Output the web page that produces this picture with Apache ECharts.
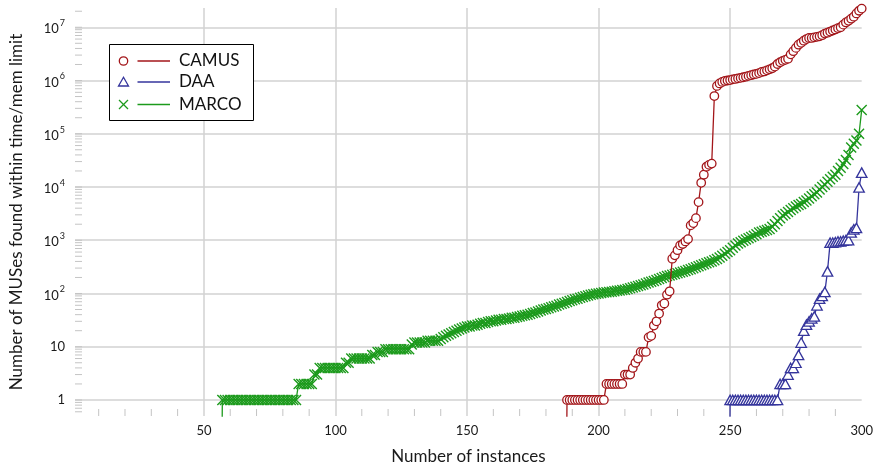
<!DOCTYPE html>
<html>
<head>
<meta charset="utf-8">
<script src="https://cdn.jsdelivr.net/npm/echarts@6/dist/echarts.min.js"></script>
<style>
  html, body { margin: 0; padding: 0; background: #fff; }
  #chart { width: 876px; height: 470px; }
</style>
</head>
<body>
<div id="chart"></div>
<script>
// cactus plot: instance rank on x, MUSes found on y (log)
const seriesNames = ['CAMUS', 'DAA', 'MARCO']

const camusStart = 188
const camusValues = [
  1, 1, 1, 1, 1, 1, 1, 1, 1, 1, 1, 1, 1, 1, 1,
  2, 2, 2, 2, 2, 2, 2,
  3, 3, 3,
  4, 5, 6,
  8, 8, 8,
  15, 16,
  25, 30,
  42, 60, 65,
  95, 110,
  450, 520, 650, 800, 850, 950, 1050,
  1900, 2100, 2600,
  5200, 12000, 17000, 24000, 26000, 27500,
  510000, 790000, 880000, 940000, 980000, 1000000, 1020000, 1050000, 1070000, 1100000,
  1120000, 1150000, 1180000, 1220000, 1260000, 1300000, 1330000, 1380000, 1450000, 1480000,
  1550000, 1620000, 1700000, 1820000, 2040000, 2200000, 2340000, 2450000, 2570000, 3100000,
  3550000, 4100000, 4700000, 5100000, 5600000, 6000000, 6300000, 6300000, 6450000, 6600000,
  6750000, 7100000, 7600000, 7900000, 8300000, 8700000, 9100000, 9600000, 10000000, 11200000,
  12300000, 13200000, 14500000, 15800000, 18200000, 20400000, 22400000
]

const daaStart = 250
const daaValues = [
  1, 1, 1, 1, 1, 1, 1, 1, 1, 1, 1, 1, 1, 1, 1, 1, 1, 1, 1,
  2, 2, 2, 3, 4, 4, 5, 7, 12, 20,
  26, 30, 34, 37, 60, 80, 90, 107, 260, 900,
  900, 920, 950, 950, 980, 1000, 1000, 1400, 1600, 1700,
  9800, 18600
]

const marcoStart = 57
const marcoValues = [
  1, 1, 1, 1, 1, 1, 1, 1, 1, 1, 1, 1, 1, 1, 1, 1, 1, 1, 1, 1, 1, 1, 1, 1, 1, 1, 1, 1, 1,
  2, 2, 2, 2, 2, 2,
  3, 3,
  4, 4, 4, 4, 4, 4, 4, 4, 4, 4,
  5, 5,
  6, 6, 6, 6, 6, 6, 6, 6,
  7, 7, 8, 8, 8,
  9, 9, 9, 9, 9, 9, 9, 9, 9, 9,
  11,
  12, 12, 12, 12, 12, 13, 13, 13, 13, 13,
  14, 15, 16, 17, 18, 19, 20, 21, 22, 23, 24,
  24, 25, 25, 26, 27,
  28, 28, 29, 30, 30, 31, 32,
  32, 33, 33, 34, 35, 35, 36, 37,
  38, 39, 40, 41, 43, 44, 46,
  48, 50, 51, 53, 55, 57, 59, 62,
  64, 66, 69, 72, 75,
  78, 80, 83, 86, 89, 92, 95,
  97, 99, 100, 102, 104, 105,
  107, 108, 110, 112, 114, 116, 118,
  122, 126, 130, 134, 138, 143, 148, 154,
  160, 166, 172, 180, 188, 196, 205,
  212, 218, 225, 232, 240, 248, 256, 265,
  275, 285, 298, 312,
  325, 340, 355, 370, 385, 400, 420, 445,
  475, 510, 555, 600, 650, 720, 800,
  870, 920, 980, 1030, 1090, 1150,
  1220, 1300, 1400, 1450, 1500, 1560, 1620,
  1800, 2000, 2300, 2600, 2900, 3100, 3400, 3700,
  4000, 4300, 4600, 4800,
  5200, 5600, 6100, 6700, 7300, 7900,
  9000, 10000, 11000, 12500, 14000, 15500, 17000,
  20000, 23000, 27000,
  32000, 40000, 55000, 65000, 75000, 100000, 280000
]

// small tick marks (pgfplots style)
const xMinorTicks = [10, 20, 30, 40, 60, 70, 80, 90, 110, 120, 130, 140, 160, 170, 180, 190,
  210, 220, 230, 240, 260, 270, 280, 290]
const yMantissas = [1, 2, 3, 4, 5, 6, 7, 8, 9]
const yDecades = [0.1, 1, 10, 100, 1e3, 1e4, 1e5, 1e6, 1e7]

const X_MIN = 1, X_MAX = 300
const Y_MIN = 0.5, Y_MAX = 2.3e7
const ZERO_FLOOR = 1e-6 // 0 MUSes -> far below the log axis, gives the drop line

const RED = '#a3161a'
const BLUE = '#35359c'
const GREEN = '#1c9a1c'
const GRID = '#d2d2d2'
const TICK = '#c4c4c4'
const FONT = 'Lato'

function cactus(start, values) {
  let pts = [{value: [start - 1, ZERO_FLOOR], symbol: 'none'}]
  values.forEach((v, i) => pts.push([start + i, v]))
  return pts
}

let yMinorTicks = []
yDecades.forEach(d => {
  yMantissas.forEach(m => {
    let v = +(d * m).toPrecision(3)
    if (v > Y_MIN && v < Y_MAX) yMinorTicks.push(v)
  })
})

const chart = echarts.init(document.getElementById('chart'))

let option = {
  animation: false,
  backgroundColor: '#fff',
  textStyle: {fontFamily: FONT},
  grid: {left: 73, right: 12, top: 8, bottom: 52},
  xAxis: {
    type: 'value',
    min: X_MIN,
    max: X_MAX,
    splitNumber: 6,
    name: 'Number of instances',
    nameLocation: 'middle',
    nameGap: 32,
    nameTextStyle: {fontSize: 17, color: '#1a1a1a', fontFamily: FONT},
    axisLine: {show: false},
    axisTick: {show: false},
    axisLabel: {fontSize: 13, color: '#1a1a1a', margin: 8, showMinLabel: false, fontFamily: FONT},
    splitLine: {show: true, showMinLine: false, showMaxLine: false, lineStyle: {color: GRID, width: 1.5}}
  },
  yAxis: {
    type: 'log',
    logBase: 10,
    min: Y_MIN,
    max: Y_MAX,
    name: 'Number of MUSes found within time/mem limit',
    nameLocation: 'middle',
    nameGap: 50,
    nameTextStyle: {fontSize: 17, color: '#1a1a1a', fontFamily: FONT},
    axisLine: {show: false},
    axisTick: {show: false},
    axisLabel: {
      fontSize: 13,
      color: '#1a1a1a',
      margin: 10,
      fontFamily: FONT,
      showMinLabel: false,
      showMaxLabel: false,
      formatter: v => {
        let e = Math.round(Math.log10(v))
        if (e === 0) return '1'
        if (e === 1) return '10'
        return '{b|10}{sup|' + e + '}'
      },
      rich: {
        b: {fontSize: 13, lineHeight: 17, verticalAlign: 'bottom', color: '#1a1a1a', fontFamily: FONT},
        sup: {fontSize: 9, lineHeight: 9, verticalAlign: 'top', color: '#1a1a1a', fontFamily: FONT, padding: [0, 0, 0, 1]}
      }
    },
    splitLine: {show: true, showMinLine: false, showMaxLine: false, lineStyle: {color: GRID, width: 1.5}}
  },
  series: [
    {
      type: 'custom',
      silent: true,
      data: xMinorTicks.map(t => [t, Y_MIN]),
      renderItem: (params, api) => {
        let p = api.coord([api.value(0), api.value(1)])
        return {type: 'line', shape: {x1: p[0], y1: p[1], x2: p[0], y2: p[1] - 7}, style: {stroke: TICK, lineWidth: 1}}
      },
      z: 1
    },
    {
      type: 'custom',
      silent: true,
      data: yMinorTicks.map(t => [X_MIN, t]),
      renderItem: (params, api) => {
        let p = api.coord([api.value(0), api.value(1)])
        return {type: 'line', shape: {x1: p[0], y1: p[1], x2: p[0] + 7, y2: p[1]}, style: {stroke: TICK, lineWidth: 1}}
      },
      z: 1
    },
    {
      name: seriesNames[2],
      type: 'line',
      data: cactus(marcoStart, marcoValues),
      symbol: 'path://M0,0L10,10M10,0L0,10',
      symbolSize: 10,
      itemStyle: {color: GREEN, borderColor: GREEN, borderWidth: 1.4},
      lineStyle: {color: GREEN, width: 1.3},
      emphasis: {disabled: true},
      silent: true,
      z: 3
    },
    {
      name: seriesNames[1],
      type: 'line',
      data: cactus(daaStart, daaValues),
      symbol: 'triangle',
      symbolSize: [10.5, 9.5],
      itemStyle: {color: '#fff', borderColor: BLUE, borderWidth: 1.3},
      lineStyle: {color: BLUE, width: 1.3},
      emphasis: {disabled: true},
      silent: true,
      z: 4
    },
    {
      name: seriesNames[0],
      type: 'line',
      data: cactus(camusStart, camusValues),
      symbol: 'circle',
      symbolSize: 8.5,
      itemStyle: {color: '#fff', borderColor: RED, borderWidth: 1.3},
      lineStyle: {color: RED, width: 1.3},
      emphasis: {disabled: true},
      silent: true,
      z: 5
    }
  ]
}

// legend box drawn by hand: marker, line, name
const legendRows = [61, 82, 104.5]
const legendColors = [RED, BLUE, GREEN]
let legend = [{
  type: 'rect',
  shape: {x: 109.5, y: 44.5, width: 144, height: 76},
  style: {fill: '#fff', stroke: '#000', lineWidth: 1},
  z: 100
}]
seriesNames.forEach((name, i) => {
  let y = legendRows[i], c = legendColors[i], mx = 123.5
  if (i === 0) {
    legend.push({type: 'circle', shape: {cx: mx, cy: y, r: 4.2}, style: {fill: '#fff', stroke: c, lineWidth: 1.3}, z: 101})
  } else if (i === 1) {
    legend.push({type: 'polygon', shape: {points: [[mx, y - 4.8], [mx - 5, y + 4], [mx + 5, y + 4]]}, style: {fill: '#fff', stroke: c, lineWidth: 1.3}, z: 101})
  } else {
    legend.push({type: 'line', shape: {x1: mx - 4.5, y1: y - 4.5, x2: mx + 4.5, y2: y + 4.5}, style: {stroke: c, lineWidth: 1.3}, z: 101})
    legend.push({type: 'line', shape: {x1: mx - 4.5, y1: y + 4.5, x2: mx + 4.5, y2: y - 4.5}, style: {stroke: c, lineWidth: 1.3}, z: 101})
  }
  legend.push({type: 'line', shape: {x1: 137.5, y1: y, x2: 170, y2: y}, style: {stroke: c, lineWidth: 1.3}, z: 101})
  legend.push({
    type: 'text', x: 179, y: y,
    style: {text: name, fontSize: 17, fontFamily: FONT, fill: '#111', verticalAlign: 'middle', align: 'left'},
    z: 101
  })
})
option.graphic = legend

chart.setOption(option)
</script>
</body>
</html>
